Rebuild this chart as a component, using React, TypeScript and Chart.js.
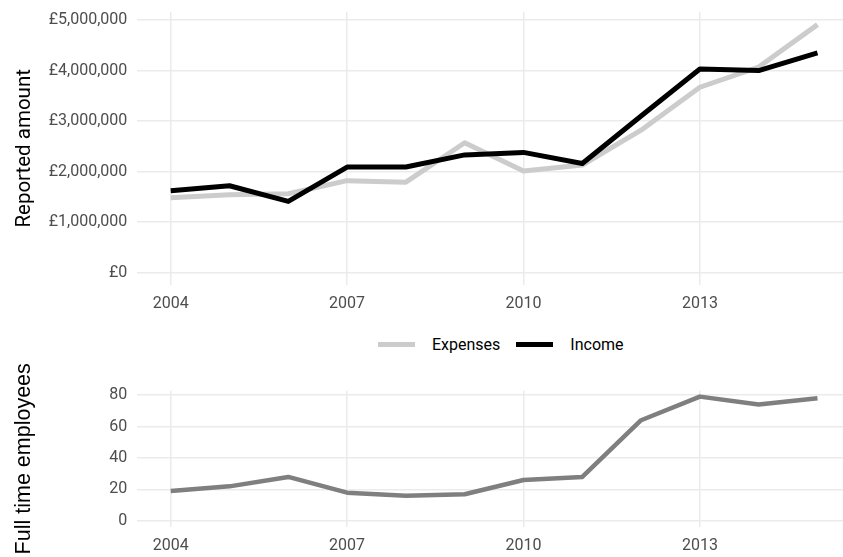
import React, { useEffect, useRef } from "react";
import { Chart, registerables } from "chart.js";

Chart.register(...registerables);

const years = [2004, 2005, 2006, 2007, 2008, 2009, 2010, 2011, 2012, 2013, 2014, 2015];
const expenses = [1480000, 1540000, 1560000, 1820000, 1790000, 2570000, 2010000, 2130000, 2820000, 3670000, 4070000, 4910000];
const income = [1620000, 1720000, 1410000, 2090000, 2090000, 2330000, 2380000, 2160000, 3100000, 4030000, 4000000, 4350000];
const employees = [19, 22, 28, 18, 16, 17, 26, 28, 64, 79, 74, 78];

const xTicks = [2004, 2007, 2010, 2013];
const moneyTicks = [0, 1000000, 2000000, 3000000, 4000000, 5000000];
const employeeTicks = [0, 20, 40, 60, 80];

const seriesNames = ["Expenses", "Income"];
const seriesColors = ["#cccccc", "#000000"];
const employeeColor = "#7f7f7f";

const TICK_FONT = { family: "Roboto", size: 16 };
const GRID = { color: "#ebebeb", lineWidth: 1.5, drawTicks: false };

function xScale(height: number) {
  return {
    type: "linear" as const,
    min: 2003.432,
    max: 2015.434,
    afterBuildTicks: (s: any) => {
      s.ticks = xTicks.map((v) => ({ value: v }));
    },
    afterFit: (s: any) => {
      s.height = height;
      s.paddingLeft = 0;
      s.paddingRight = 0;
    },
    grid: GRID,
    border: { display: false },
    ticks: {
      padding: 9,
      color: "#4d4d4d",
      font: TICK_FONT,
      maxRotation: 0,
      autoSkip: false,
      callback: (v: any) => String(v),
    },
  };
}

function yFit(s: any) {
  s.width = 137.3;
  s.paddingTop = 0;
  s.paddingBottom = 0;
}

function TopChart() {
  const ref = useRef<HTMLCanvasElement>(null);
  useEffect(() => {
    const chart = new Chart(ref.current!, {
      type: "line",
      data: {
        datasets: [
          {
            label: seriesNames[0],
            data: years.map((y, i) => ({ x: y, y: expenses[i] })),
            borderColor: seriesColors[0],
            borderWidth: 5,
            order: 2,
          },
          {
            label: seriesNames[1],
            data: years.map((y, i) => ({ x: y, y: income[i] })),
            borderColor: seriesColors[1],
            borderWidth: 5,
            order: 1,
          },
        ],
      },
      options: {
        animation: false,
        responsive: false,
        devicePixelRatio: 1,
        layout: { padding: { top: 11.7, left: 0, right: 0, bottom: 0 } },
        elements: {
          point: { radius: 0 },
          line: { tension: 0, borderJoinStyle: "round", borderCapStyle: "butt" },
        },
        plugins: { legend: { display: false }, tooltip: { enabled: false } },
        scales: {
          x: xScale(40),
          y: {
            min: -246000,
            max: 5166000,
            afterBuildTicks: (s: any) => {
              s.ticks = moneyTicks.map((v) => ({ value: v }));
            },
            afterFit: yFit,
            grid: GRID,
            border: { display: false },
            ticks: {
              padding: 10,
              color: "#4d4d4d",
              font: TICK_FONT,
              callback: (v: any) => "£" + Number(v).toLocaleString("en-GB"),
            },
            title: {
              display: true,
              text: "Reported amount",
              color: "#000000",
              font: { family: "Roboto", size: 20.5 },
              padding: { top: 12.2, bottom: 0 },
            },
          },
        },
      },
    });
    return () => chart.destroy();
  }, []);
  return <canvas ref={ref} width={843} height={325} style={{ display: "block" }} />;
}

function BottomChart() {
  const ref = useRef<HTMLCanvasElement>(null);
  useEffect(() => {
    const chart = new Chart(ref.current!, {
      type: "line",
      data: {
        datasets: [
          {
            label: "Full time employees",
            data: years.map((y, i) => ({ x: y, y: employees[i] })),
            borderColor: employeeColor,
            borderWidth: 4.5,
          },
        ],
      },
      options: {
        animation: false,
        responsive: false,
        devicePixelRatio: 1,
        layout: { padding: { top: 35.4, left: 0, right: 0, bottom: 0 } },
        elements: {
          point: { radius: 0 },
          line: { tension: 0, borderJoinStyle: "round", borderCapStyle: "butt" },
        },
        plugins: { legend: { display: false }, tooltip: { enabled: false } },
        scales: {
          x: xScale(29.8),
          y: {
            min: -3.95,
            max: 82.95,
            afterBuildTicks: (s: any) => {
              s.ticks = employeeTicks.map((v) => ({ value: v }));
            },
            afterFit: yFit,
            grid: GRID,
            border: { display: false },
            ticks: {
              padding: 10,
              color: "#4d4d4d",
              font: TICK_FONT,
              callback: (v: any) => String(v),
            },
            title: {
              display: true,
              text: "Full time employees",
              color: "#000000",
              font: { family: "Liberation Sans", size: 21.5 },
              padding: { top: 11.6, bottom: 0 },
            },
          },
        },
      },
    });
    return () => chart.destroy();
  }, []);
  return <canvas ref={ref} width={843} height={202} style={{ display: "block" }} />;
}

function Legend() {
  return (
    <div
      style={{
        position: "absolute",
        left: 378,
        top: 334,
        height: 20,
        display: "flex",
        alignItems: "center",
        fontFamily: "Roboto",
        fontSize: 16,
        color: "#000000",
        whiteSpace: "nowrap",
      }}
    >
      {seriesNames.map((name, i) => (
        <div key={name} style={{ display: "flex", alignItems: "center", marginRight: i === 0 ? 16 : 0 }}>
          <div style={{ width: 37, height: 5, background: seriesColors[i], marginRight: 17 }} />
          <span>{name}</span>
        </div>
      ))}
    </div>
  );
}

export default function App() {
  return (
    <div style={{ position: "absolute", left: 0, top: 0, width: 843, height: 557, background: "#ffffff", overflow: "hidden" }}>
      <div style={{ position: "absolute", left: 0, top: 0 }}>
        <TopChart />
      </div>
      <Legend />
      <div style={{ position: "absolute", left: 0, top: 355 }}>
        <BottomChart />
      </div>
    </div>
  );
}
